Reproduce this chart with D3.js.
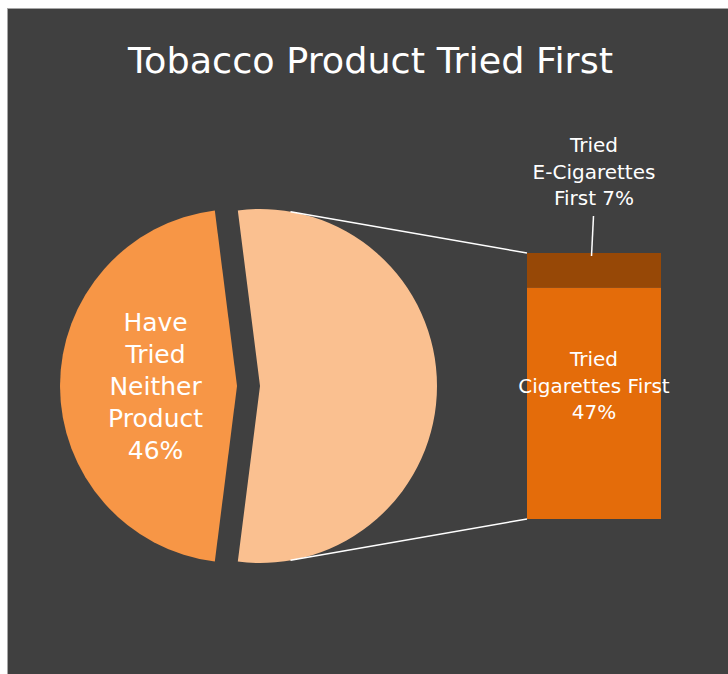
<!DOCTYPE html>
<html>
<head>
<meta charset="utf-8">
<script src="https://cdn.jsdelivr.net/npm/d3@7"></script>
<style>
  html, body { margin: 0; padding: 0; background: #ffffff; }
  svg { display: block; }
  text { font-family: "Century Gothic", "URW Gothic", "DejaVu Sans", sans-serif; fill: #ffffff; }
</style>
</head>
<body>
<svg id="chart" width="728" height="674"></svg>
<script>
// Pie: the share that tried neither product, and the remainder split out into the bar
const pieLabels = ["Have Tried Neither Product", "Other"];
const pieValues = [46, 54];

// Bar: breakdown of the "Other" slice, bottom to top
const barLabels = ["Tried Cigarettes First", "Tried E-Cigarettes First"];
const barValues = [47, 7];

const title = "Tobacco Product Tried First";

const pieColors = ["#F79646", "#FAC090"];
const barColors = ["#E46C0A", "#974806"];

const svg = d3.select("#chart");

// Chart area with a thin frame
svg.append("rect")
  .attr("x", 7.5).attr("y", 8.5)
  .attr("width", 740).attr("height", 700)
  .attr("fill", "#404040")
  .attr("stroke", "#a6a6a6")
  .attr("stroke-width", 1);

svg.append("text")
  .attr("x", 370.5).attr("y", 73)
  .attr("text-anchor", "middle")
  .attr("font-size", 36)
  .attr("textLength", 485)
  .attr("lengthAdjust", "spacingAndGlyphs")
  .text(title);

// ---- Pie ----
const R = 177;
const cy = 386;
const cxNeither = 237;
const cxOther = 260;

const otherIdx = pieLabels.indexOf("Other");
const total = d3.sum(pieValues);
const otherSpan = pieValues[otherIdx] / total * 2 * Math.PI;

// Order the remainder first so it can be centred on the right-hand side
const ordered = [otherIdx, ...pieValues.map((_, i) => i).filter(i => i !== otherIdx)];
const pie = d3.pie()
  .sort(null)
  .value(i => pieValues[i])
  .startAngle(Math.PI / 2 - otherSpan / 2)
  .endAngle(Math.PI / 2 - otherSpan / 2 + 2 * Math.PI);

const arcs = pie(ordered);
const arc = d3.arc().innerRadius(0).outerRadius(R);
const labelArc = d3.arc().innerRadius(R * 0.92).outerRadius(0);

const slices = svg.append("g");
arcs.forEach(a => {
  const i = a.data;
  const cx = i === otherIdx ? cxOther : cxNeither;
  slices.append("path")
    .attr("transform", `translate(${cx},${cy})`)
    .attr("d", arc(a))
    .attr("fill", pieColors[i]);
});

// ---- Bar ----
const barX0 = 527, barX1 = 661;
const yBar = d3.scaleLinear()
  .domain([0, pieValues[otherIdx]])
  .range([519, 253]);

const stacked = [];
let acc = 0;
barValues.forEach((v, i) => { stacked.push({ i, y0: acc, y1: acc + v }); acc += v; });

svg.append("g").selectAll("rect")
  .data(stacked)
  .join("rect")
  .attr("x", barX0)
  .attr("width", barX1 - barX0)
  .attr("y", d => yBar(d.y1))
  .attr("height", d => yBar(d.y0) - yBar(d.y1))
  .attr("fill", d => barColors[d.i]);

// ---- Connector lines: tangents from the bar corners to the exploded slice ----
function tangentPoint(px, py, cx, cy, r, upper) {
  const dx = px - cx, dy = py - cy;
  const d = Math.hypot(dx, dy);
  const base = Math.atan2(dy, dx);
  const off = Math.acos(r / d);
  const ang = upper ? base - off : base + off;
  return [cx + r * Math.cos(ang), cy + r * Math.sin(ang)];
}
const topCorner = [barX0, yBar(pieValues[otherIdx])];
const botCorner = [barX0, yBar(0)];
const tTop = tangentPoint(topCorner[0], topCorner[1], cxOther, cy, R, true);
const tBot = tangentPoint(botCorner[0], botCorner[1], cxOther, cy, R, false);

svg.append("g")
  .attr("stroke", "#ffffff")
  .attr("stroke-width", 1.5)
  .selectAll("line")
  .data([[tTop, topCorner], [tBot, botCorner]])
  .join("line")
  .attr("x1", d => d[0][0]).attr("y1", d => d[0][1])
  .attr("x2", d => d[1][0]).attr("y2", d => d[1][1]);

// ---- Labels ----
function multiline(x, yFirst, lines, size, step) {
  const t = svg.append("text")
    .attr("text-anchor", "middle")
    .attr("font-size", size);
  lines.forEach((s, k) => {
    t.append("tspan").attr("x", x).attr("y", yFirst + k * step).text(s);
  });
  return t;
}

// Pie slice label
const neitherArc = arcs.find(a => a.data !== otherIdx);
const nc = labelArc.centroid(neitherArc);
const nIdx = neitherArc.data;
const nx = cxNeither + nc[0];
const nLines = ["Have", "Tried", "Neither", "Product", pieValues[nIdx] + "%"];
multiline(nx, cy - 2 * 32 + 9, nLines, 25, 32);

// Lower bar segment label, inside the segment
const cig = stacked[0];
const barMid = (barX0 + barX1) / 2;
multiline(barMid, (yBar(cig.y1) + yBar(cig.y0)) / 2 - 37, ["Tried", "Cigarettes First", barValues[0] + "%"], 20, 26.5);

// Upper bar segment label, above the bar with a leader line
const ecig = stacked[1];
multiline(barMid, 152, ["Tried", "E-Cigarettes", "First " + barValues[1] + "%"], 20, 26.5);
svg.append("line")
  .attr("x1", barMid - 0.5).attr("y1", 216)
  .attr("x2", barMid - 2.5).attr("y2", yBar(ecig.y1) + 3)
  .attr("stroke", "#ffffff")
  .attr("stroke-width", 1.5);
</script>
</body>
</html>
